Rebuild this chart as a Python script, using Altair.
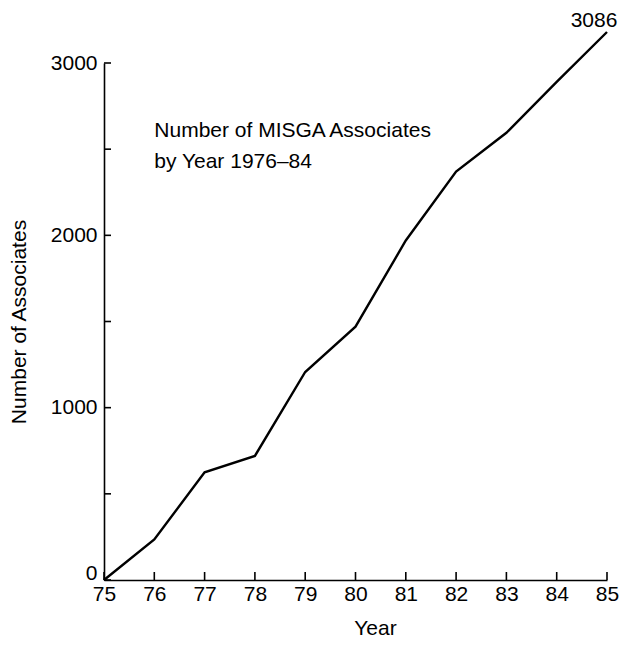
import altair as alt
import pandas as pd

# Data
years = [75, 76, 77, 78, 79, 80, 81, 82, 83, 84, 85]
associates = [0, 235, 625, 720, 1207, 1470, 1970, 2370, 2595, 2890, 3180]
end_label = "3086"
y_tick_values = [0, 500, 1000, 1500, 2000, 2500, 3000]
y_label_values = [0, 1000, 2000, 3000]
note_lines = ["Number of MISGA Associates", "by Year 1976\u201384"]
note_at = {"year": 76, "value": 2570}

FONT = "Liberation Sans"
FS = 21

df = pd.DataFrame({"year": years, "n": associates})
xs = alt.Scale(domain=[75, 85], nice=False, zero=False)
ys = alt.Scale(domain=[0, 3000], nice=False, zero=True)

x_axis = alt.Axis(values=years, format="d", ticks=False, grid=False, domain=True,
                  domainColor="black", domainWidth=1.6,
                  labelFont=FONT, labelFontSize=FS, labelColor="black",
                  labelPadding=3, labelFlush=False,
                  title="Year", titleFont=FONT, titleFontSize=FS,
                  titleFontWeight="normal", titleColor="black",
                  titleX=271, titlePadding=13)
y_axis = alt.Axis(values=y_label_values, format="d", ticks=False, grid=False, domain=True,
                  domainColor="black", domainWidth=1.6,
                  labelFont=FONT, labelFontSize=FS, labelColor="black",
                  labelPadding=7, labelFlush=False,
                  labelOffset=alt.condition("datum.value == 0", alt.value(-7), alt.value(0)),
                  title="Number of Associates", titleFont=FONT, titleFontSize=FS,
                  titleFontWeight="normal", titleColor="black", titlePadding=21)

line = alt.Chart(df).mark_line(color="black", strokeWidth=2.4).encode(
    x=alt.X("year:Q", scale=xs, axis=x_axis),
    y=alt.Y("n:Q", scale=ys, axis=y_axis),
)

end_df = pd.DataFrame({"year": [years[-1]], "n": [associates[-1]], "t": [end_label]})
end_text = alt.Chart(end_df).mark_text(font=FONT, fontSize=FS, color="black",
                                       align="center", baseline="alphabetic",
                                       dx=-13, dy=-5).encode(
    x=alt.X("year:Q", scale=xs), y=alt.Y("n:Q", scale=ys), text="t:N")

note_df = pd.DataFrame({"year": [note_at["year"]], "n": [note_at["value"]],
                        "t": ["\n".join(note_lines)]})
note = alt.Chart(note_df).mark_text(font=FONT, fontSize=FS, color="black", align="left",
                                    baseline="alphabetic", lineBreak="\n", lineHeight=31).encode(
    x=alt.X("year:Q", scale=xs), y=alt.Y("n:Q", scale=ys), text="t:N")

ytick_df = pd.DataFrame({"v": y_tick_values})
yticks = alt.Chart(ytick_df).mark_rule(color="black", strokeWidth=1.6).encode(
    y=alt.Y("v:Q", scale=ys), x=alt.value(0), x2=alt.value(7))

xtick_df = pd.DataFrame({"year": years})
xticks = alt.Chart(xtick_df).mark_rule(color="black", strokeWidth=1.6).encode(
    x=alt.X("year:Q", scale=xs), y=alt.value(517), y2=alt.value(509))

chart = alt.layer(line, yticks, xticks, end_text, note).properties(
    width=503, height=517,
    padding={"left": 96, "top": 55, "right": 13, "bottom": 58},
    autosize=alt.AutoSizeParams(type="none"),
    background="white",
).configure_view(strokeOpacity=0)

chart.save("out.html", embed_options={"renderer": "svg", "actions": False})
